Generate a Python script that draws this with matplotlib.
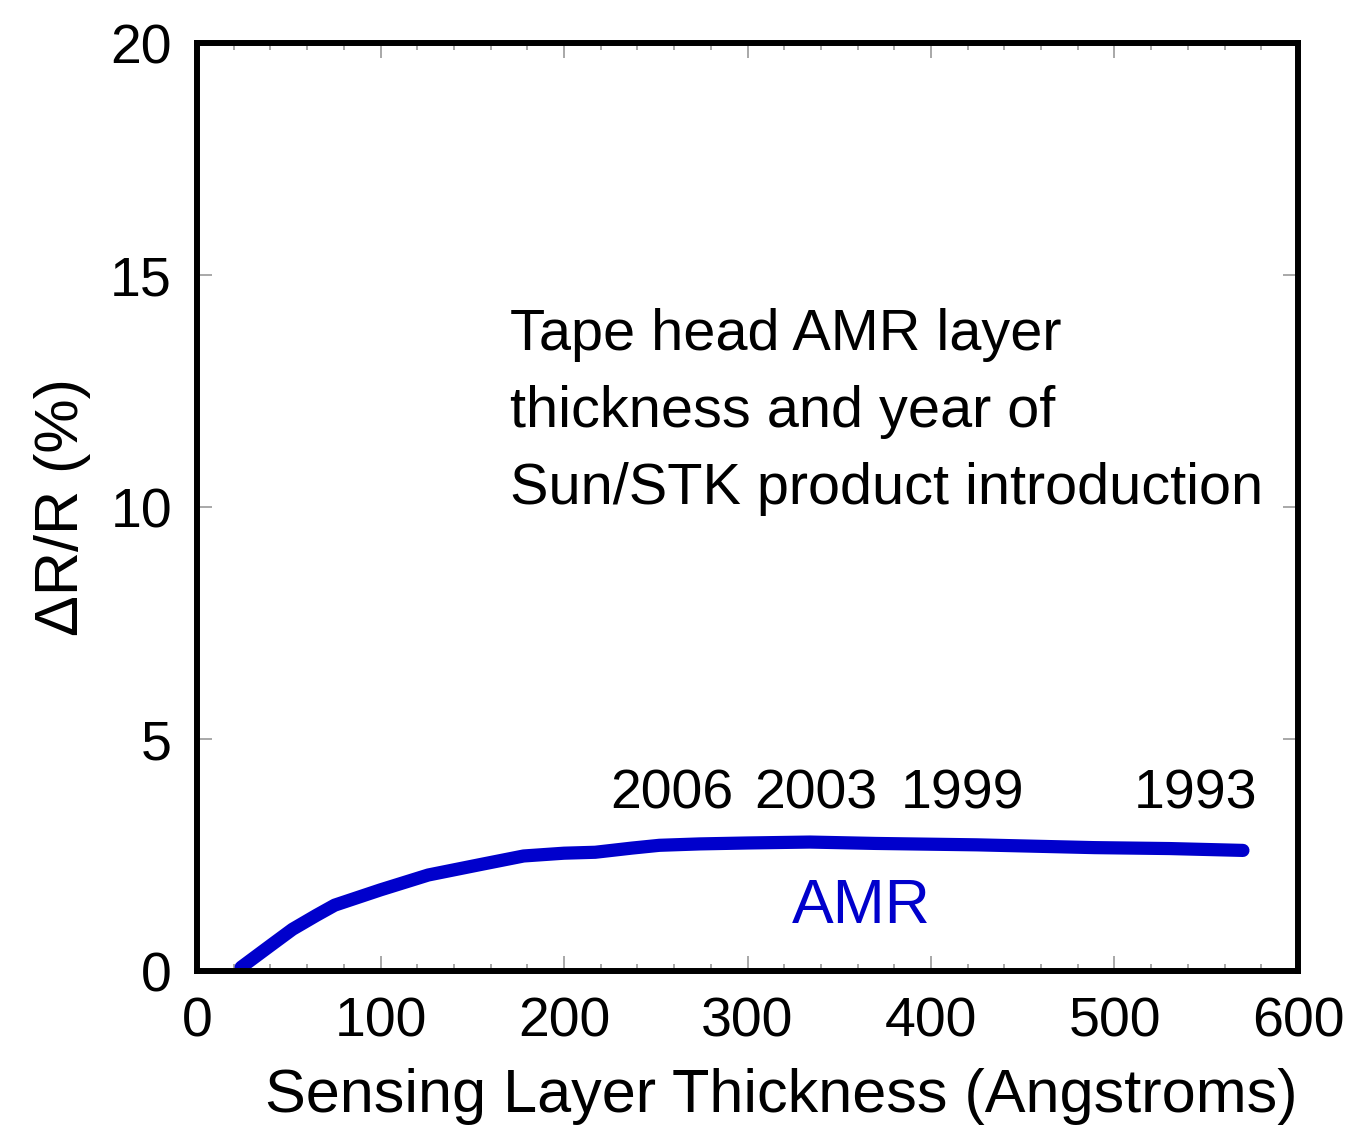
import matplotlib
matplotlib.use("Agg")
import matplotlib.pyplot as plt
from matplotlib.ticker import MultipleLocator

# Data
thickness = [24, 40, 52, 65, 75, 100, 126, 155, 178, 200, 217, 237, 252, 274, 300, 334, 370, 425, 489, 530, 570]
delta_r = [0.08, 0.55, 0.9, 1.2, 1.42, 1.75, 2.07, 2.3, 2.48, 2.54, 2.56, 2.65, 2.71, 2.74, 2.76, 2.78, 2.75, 2.72, 2.66, 2.64, 2.6]
year_labels = ["2006", "2003", "1999", "1993"]
year_x = [259, 337, 417, 544]
year_y = [3.8, 3.8, 3.8, 3.8]
x_ticks = [0, 100, 200, 300, 400, 500, 600]
y_ticks = [0, 5, 10, 15, 20]

font = "Liberation Sans"

fig = plt.figure(figsize=(13.47, 11.29), dpi=100)
ax = fig.add_axes([0.1463, 0.1399, 0.8173, 0.822])

ax.plot(thickness, delta_r, color="#0000CC", lw=9.5, solid_capstyle="round", solid_joinstyle="round")

ax.set_xlim(0, 600)
ax.set_ylim(0, 20)
ax.set_xticks(x_ticks)
ax.set_yticks(y_ticks)
ax.xaxis.set_minor_locator(MultipleLocator(20))

for s in ax.spines.values():
    s.set_linewidth(4.3)
    s.set_color("black")

ax.tick_params(which="both", direction="in", top=True, right=True, color="#999999")
ax.tick_params(which="major", length=11, width=1.2)
ax.tick_params(which="minor", length=5, width=1.2)
ax.tick_params(axis="x", which="major", pad=18, labelsize=40)
ax.tick_params(axis="y", which="major", pad=18, labelsize=40)
for lbl in ax.get_xticklabels() + ax.get_yticklabels():
    lbl.set_fontfamily(font)

ax.set_xlabel("Sensing Layer Thickness (Angstroms)", fontsize=44, family=font)
ax.xaxis.set_label_coords(0.531, -0.104)
ax.set_ylabel("ΔR/R (%)", fontsize=44, family=font, labelpad=14)

for lab, x, y in zip(year_labels, year_x, year_y):
    ax.text(x, y, lab, fontsize=40, family=font, ha="center", va="center", color="black")

ax.text(362, 1.4, "AMR", fontsize=45, family=font, ha="center", va="center", color="#0000CC")

ax.text(170.6, 14.3, "Tape head AMR layer\nthickness and year of\nSun/STK product introduction",
        fontsize=41.5, family=font, ha="left", va="top", linespacing=1.55, color="black")

fig.savefig("out.png", dpi=100)
